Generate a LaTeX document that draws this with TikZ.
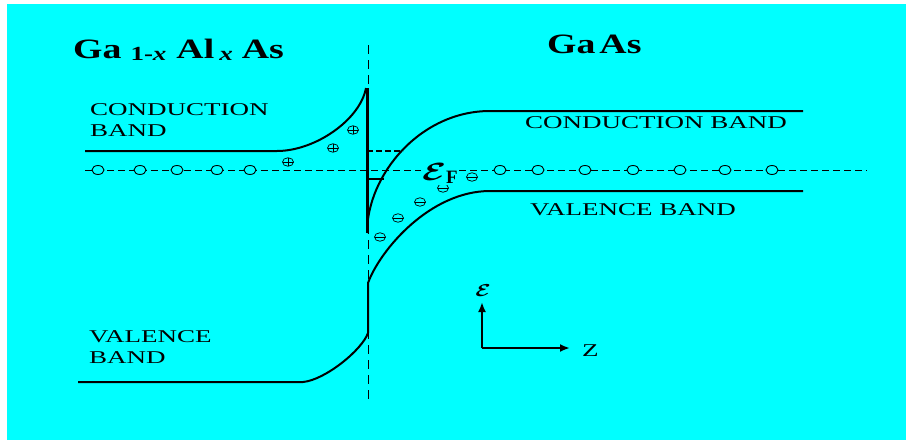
\documentclass[tikz,border=0pt]{standalone}
\usepackage{fontspec}
\usepackage{amsmath,amssymb}
\usepackage{graphicx}
\usepackage{xcolor}
\usepackage{tikz}
\usetikzlibrary{arrows.meta,shapes.geometric}
\setmainfont{Liberation Serif}
\newfontfamily\bandfont[FakeStretch=1.5]{Liberation Serif}
\newfontfamily\titlefont[FakeStretch=1.35]{Liberation Serif}
\definecolor{panel}{RGB}{0,255,255}

\begin{document}
\begin{tikzpicture}[
  x=1pt,y=-1pt,
  >=Latex,
  band/.style={line width=2pt, draw=black},
  wall/.style={line width=3pt, draw=black},
  interface/.style={line width=0.8pt, draw=black, dash pattern=on 9pt off 6pt},
  fermi/.style={line width=0.8pt, draw=black, dash pattern=on 7pt off 4pt},
  sublevel/.style={line width=2pt, draw=black},
  site/.style={draw=black, line width=0.9pt, fill=panel, ellipse,
               minimum width=12pt, minimum height=9pt, inner sep=0pt},
  hole/.style={draw=black, line width=0.7pt, fill=panel, ellipse,
               minimum width=11pt, minimum height=8.5pt, inner sep=0pt,
               path picture={\draw[line width=0.7pt]
                 (path picture bounding box.west) -- (path picture bounding box.east)
                 (path picture bounding box.north) -- (path picture bounding box.south);}},
  electron/.style={draw=black, line width=0.7pt, fill=panel, ellipse,
               minimum width=11pt, minimum height=8.5pt, inner sep=0pt,
               path picture={\draw[line width=0.7pt]
                 (path picture bounding box.west) -- (path picture bounding box.east);}},
  bandlabel/.style={font=\bandfont\fontsize{18}{21}\selectfont, align=left,
                    inner sep=0pt, anchor=base west},
  material/.style={font=\titlefont\bfseries\fontsize{28}{30}\selectfont,
                   inner sep=0pt, anchor=base west},
  axis/.style={-{Latex[length=10pt,width=8pt]}, line width=2pt, draw=black}
]

\useasboundingbox (0,0) rectangle (906,440);
\fill[white] (0,0) rectangle (906,440);
\fill[panel] (7,4) rectangle (906,440);

\node[material] (alloy) at (73,58)
  {Ga\hspace{9pt}\raisebox{-2pt}{\fontsize{20}{20}\selectfont 1-\textit{x}}\hspace{10pt}Al\hspace{5pt}\raisebox{-2pt}{\fontsize{20}{20}\selectfont\textit{x}}\hspace{9pt}As};
\node[material] (gaas) at (547,53) {Ga\kern4pt As};

\draw[interface] (368,45) -- (368,400);
\draw[fermi] (85,170) -- (867,170);

\draw[band] (85,151) -- (277,151) .. controls (315,151) and (360,120) .. (366,88);
\draw[wall] (367,88) -- (367,233);
\draw[band] (367,233) .. controls (367,175) and (420,111) .. (490,111) -- (803,111);
\draw[band] (78,382) -- (303,382) .. controls (325,380) and (362,350) .. (368,333)
  -- (368,283) .. controls (380,250) and (430,191) .. (490,191) -- (803,191);

\draw[sublevel, dash pattern=on 6pt off 3pt] (367,151) -- (403,151);
\draw[sublevel] (367,179) -- (384,179);

\foreach \x [count=\i] in {98,140,177,217,250,500,538,585,633,680,725,772}
  \node[site] (site\i) at (\x,170) {};

\foreach \x/\y [count=\i] in {353/130,333/148,288/162}
  \node[hole] (hole\i) at (\x,\y) {};
\foreach \x/\y [count=\i] in {380/237,398/218,420/202,443/188,472/177}
  \node[electron] (elec\i) at (\x,\y) {};

\node[fill=panel, inner sep=1pt, anchor=base west] (fermilabel) at (421,180)
  {\fontsize{27}{27}\selectfont$\scalebox{1.4}[1]{$\boldsymbol{\mathcal{E}}$}_{\mathbf{F}}$};

\node[bandlabel] (cbleft) at (90,136) {CONDUCTION\\BAND};
\node[bandlabel] (vbleft) at (89,363) {VALENCE\\BAND};
\node[bandlabel] (cbright) at (525,128) {CONDUCTION BAND};
\node[bandlabel] (vbright) at (530,215) {VALENCE BAND};

\coordinate (origin) at (482,348);
\coordinate (etip) at (482,302);
\coordinate (ztip) at (570,348);
\draw[axis] (origin) -- (etip);
\draw[axis] (origin) -- (ztip);
\node (elabel) at (483,291) {\fontsize{18}{18}\selectfont$\scalebox{1.3}[1]{$\boldsymbol{\mathcal{E}}$}$};
\node[bandlabel] (zlabel) at (582,356) {Z};

\end{tikzpicture}
\end{document}
